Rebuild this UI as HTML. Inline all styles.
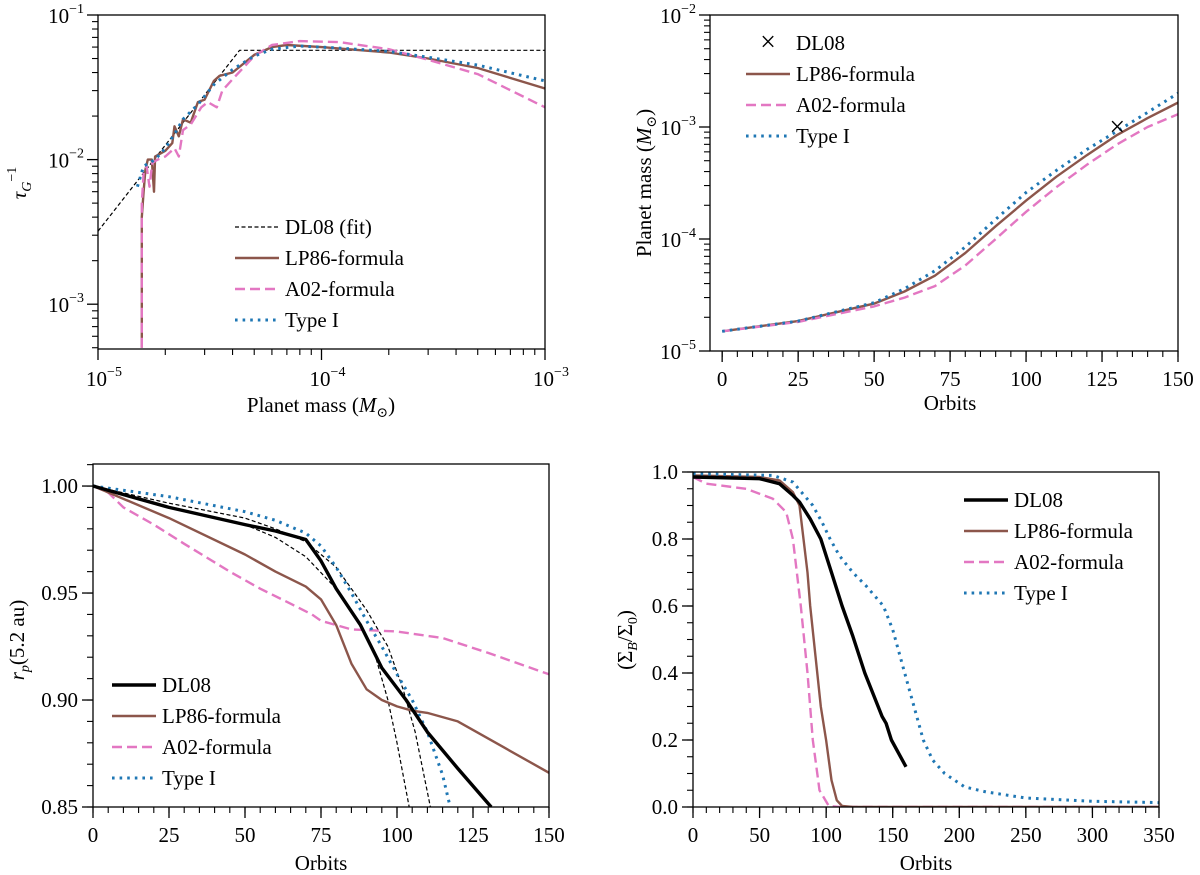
<!DOCTYPE html>
<html><head><meta charset="utf-8"><style>
html,body{margin:0;padding:0;background:#fff;}
svg{display:block;font-family:"Liberation Serif","DejaVu Serif",serif;}
</style></head><body>
<svg id="fig" width="1200" height="875" viewBox="0 0 1200 875"></svg>
<script>
// ---------- data ----------
const aDL08fit = [[1e-5,3.2e-3],[4.3e-5,5.7e-2],[1e-3,5.7e-2]];
const aLP86 = [[1.57e-5,5e-4],[1.57e-5,4e-3],[1.6e-5,6e-3],[1.63e-5,8.5e-3],[1.67e-5,1e-2],[1.74e-5,1e-2],[1.78e-5,6e-3],[1.8e-5,1.05e-2],[2e-5,1.15e-2],[2.15e-5,1.3e-2],[2.2e-5,1.7e-2],[2.3e-5,1.45e-2],[2.4e-5,1.9e-2],[2.6e-5,1.8e-2],[2.8e-5,2.5e-2],[3e-5,2.6e-2],[3.3e-5,3.5e-2],[3.5e-5,3.8e-2],[4e-5,4e-2],[5e-5,5.3e-2],[6e-5,6e-2],[7e-5,6.2e-2],[1e-4,6e-2],[2e-4,5.5e-2],[3e-4,5e-2],[5e-4,4.3e-2],[1e-3,3.1e-2]];
const aA02 = [[1.57e-5,5e-4],[1.57e-5,5e-3],[1.6e-5,8e-3],[1.65e-5,9e-3],[1.7e-5,6.5e-3],[1.75e-5,9.5e-3],[1.85e-5,1e-2],[2e-5,1.05e-2],[2.2e-5,1.2e-2],[2.3e-5,1.05e-2],[2.4e-5,1.6e-2],[2.6e-5,1.75e-2],[2.9e-5,2.3e-2],[3.1e-5,2.5e-2],[3.4e-5,2.3e-2],[3.6e-5,3e-2],[4e-5,3.6e-2],[5e-5,5.2e-2],[6e-5,6.2e-2],[8e-5,6.6e-2],[1.2e-4,6.5e-2],[2e-4,5.8e-2],[3e-4,4.9e-2],[5e-4,3.9e-2],[1e-3,2.3e-2]];
const aTypeI = [[1.5e-5,6.5e-3],[1.6e-5,9e-3],[1.8e-5,1e-2],[2e-5,1.2e-2],[2.2e-5,1.5e-2],[2.4e-5,1.9e-2],[2.8e-5,2.4e-2],[3.3e-5,3.3e-2],[4e-5,4.2e-2],[5e-5,5.2e-2],[6e-5,5.8e-2],[8e-5,6.1e-2],[1.2e-4,5.9e-2],[2e-4,5.6e-2],[3e-4,5.1e-2],[5e-4,4.5e-2],[1e-3,3.5e-2]];
const bLP86 = [[0,1.5e-5],[25,1.85e-5],[50,2.65e-5],[60,3.4e-5],[70,4.7e-5],[80,7.5e-5],[90,1.3e-4],[100,2.2e-4],[110,3.6e-4],[120,5.6e-4],[130,8.5e-4],[140,1.2e-3],[150,1.65e-3]];
const bA02 = [[0,1.5e-5],[25,1.82e-5],[50,2.5e-5],[60,3.0e-5],[70,3.8e-5],[80,5.8e-5],[90,1.0e-4],[100,1.75e-4],[110,2.9e-4],[120,4.6e-4],[130,7.0e-4],[140,1.0e-3],[150,1.3e-3]];
const bTypeI = [[0,1.5e-5],[25,1.85e-5],[50,2.7e-5],[60,3.6e-5],[70,5.2e-5],[80,8.5e-5],[90,1.5e-4],[100,2.6e-4],[110,4.1e-4],[120,6.3e-4],[130,9.2e-4],[140,1.35e-3],[150,2.0e-3]];
const bDL08 = [[130,1e-3]];
const cDL08 = [[0,1],[25,0.99],[50,0.982],[60,0.979],[70,0.975],[75,0.965],[80,0.952],[88,0.935],[95,0.915],[103,0.9],[110,0.885],[120,0.868],[131,0.85]];
const cLP86 = [[0,1],[25,0.985],[50,0.968],[60,0.96],[70,0.953],[75,0.947],[80,0.935],[85,0.917],[90,0.905],[95,0.9],[100,0.897],[105,0.895],[110,0.894],[120,0.89],[135,0.878],[150,0.866]];
const cA02 = [[0,1],[5,0.997],[10,0.99],[20,0.982],[30,0.973],[45,0.96],[55,0.952],[65,0.945],[72,0.94],[75,0.937],[85,0.933],[100,0.932],[115,0.929],[130,0.922],[150,0.912]];
const cTypeI = [[0,1],[25,0.995],[50,0.988],[60,0.984],[70,0.978],[75,0.972],[80,0.962],[85,0.95],[90,0.937],[95,0.925],[100,0.912],[105,0.9],[110,0.885],[115,0.865],[117.5,0.85]];
const cFit1 = [[0,1],[25,0.99],[50,0.982],[60,0.976],[70,0.967],[80,0.952],[88,0.935],[93,0.92],[97,0.9],[100,0.88],[104,0.85]];
const cFit2 = [[0,1],[25,0.992],[50,0.985],[60,0.98],[70,0.974],[80,0.962],[90,0.942],[97,0.925],[102,0.905],[106,0.885],[111,0.85]];
const dDL08 = [[0,0.985],[50,0.98],[65,0.965],[75,0.93],[80,0.91],[88,0.86],[96,0.8],[104,0.7],[112,0.6],[120,0.51],[129,0.4],[142,0.27],[145,0.25],[149,0.2],[160,0.12]];
const dLP86 = [[0,0.99],[50,0.985],[65,0.975],[75,0.94],[80,0.9],[83,0.8],[86,0.7],[88,0.6],[92,0.45],[96,0.3],[100,0.2],[104,0.08],[108,0.02],[112,0.003],[120,0],[350,0]];
const dA02 = [[0,0.985],[10,0.965],[40,0.95],[60,0.92],[70,0.88],[75,0.8],[81,0.6],[86,0.4],[90,0.2],[95,0.05],[102,0.003],[110,0],[350,0]];
const dTypeI = [[0,0.995],[60,0.99],[75,0.97],[90,0.9],[97,0.85],[103,0.8],[110,0.75],[120,0.7],[130,0.66],[143,0.6],[150,0.53],[159,0.4],[166,0.3],[173,0.2],[180,0.14],[189,0.1],[204,0.06],[220,0.045],[250,0.027],[300,0.017],[350,0.013]];
const linTicksB = [0,25,50,75,100,125,150];
const linTicksC = [0,25,50,75,100,125,150];
const yTicksC = [0.85,0.90,0.95,1.00];
const xTicksD = [0,50,100,150,200,250,300,350];
const yTicksD = [0,0.2,0.4,0.6,0.8,1.0];

// ---------- helpers ----------
const NS="http://www.w3.org/2000/svg";
const svg=document.getElementById('fig');
const FS=21, SUP=14;
function mk(tag,attrs,parent){const e=document.createElementNS(NS,tag);for(const k in attrs)e.setAttribute(k,attrs[k]);(parent||svg).appendChild(e);return e;}
const STY={
 fit:{stroke:'#000',w:1.2,dash:'4,2.5'},
 dl08:{stroke:'#000',w:3.4,dash:''},
 lp86:{stroke:'#8c564b',w:2.4,dash:''},
 a02:{stroke:'#e377c2',w:2.4,dash:'10,5'},
 type1:{stroke:'#1f77b4',w:3,dash:'2.6,5'}
};
function axes(p){
  const lg=v=>Math.log10(v);
  p.sx=v=>p.x0+((p.xlog?lg(v):v)-(p.xlog?lg(p.xmin):p.xmin))/((p.xlog?lg(p.xmax):p.xmax)-(p.xlog?lg(p.xmin):p.xmin))*(p.x1-p.x0);
  p.sy=v=>p.y1-((p.ylog?lg(v):v)-(p.ylog?lg(p.ymin):p.ymin))/((p.ylog?lg(p.ymax):p.ymax)-(p.ylog?lg(p.ymin):p.ymin))*(p.y1-p.y0);
  return p;
}
function clip(p,id){const d=mk('clipPath',{id:id});mk('rect',{x:p.x0,y:p.y0,width:p.x1-p.x0,height:p.y1-p.y0},d);return 'url(#'+id+')';}
function line(p,data,st,name,cl){
  const d=data.map((q,i)=>(i?'L':'M')+p.sx(q[0]).toFixed(1)+','+p.sy(q[1]).toFixed(1)).join('');
  const e=mk('path',{d:d,fill:'none',stroke:st.stroke,'stroke-width':st.w,'stroke-dasharray':st.dash,'stroke-linejoin':'round','clip-path':cl});
  
  
}
function txt(x,y,s,attrs,name){const e=mk('text',Object.assign({x:x,y:y,'font-size':FS,fill:'#000'},attrs||{}));e.innerHTML=s;return e;}
function frame(p,name){const e=mk('rect',{x:p.x0,y:p.y0,width:p.x1-p.x0,height:p.y1-p.y0,fill:'none',stroke:'#000','stroke-width':1.3});}
function tick(x1,y1,x2,y2,w){mk('line',{x1:x1,y1:y1,x2:x2,y2:y2,stroke:'#000','stroke-width':w||1.3});}
const MJ=11, MN=6;
function linXTicks(p,ticks,minorStep){
  for(let v=Math.ceil(p.xmin/minorStep)*minorStep;v<=p.xmax+1e-9;v+=minorStep){const x=p.sx(v);tick(x,p.y1,x,p.y1+MN,1.1);}
  for(const t of ticks){const x=p.sx(t);tick(x,p.y1,x,p.y1+MJ);txt(x,p.y1+35,String(t),{'text-anchor':'middle'},'x-tick-label');}
}
function linYTicks(p,ticks,minorStep,fmt){
  for(let v=Math.ceil(p.ymin/minorStep-1e-9)*minorStep;v<=p.ymax+1e-9;v+=minorStep){const y=p.sy(v);tick(p.x0-MN,y,p.x0,y,1.1);}
  for(const t of ticks){const y=p.sy(t);tick(p.x0-MJ,y,p.x0,y);txt(p.x0-15,y+7,fmt(t),{'text-anchor':'end'},'y-tick-label');}
}
function logYTicks(p,e0,e1){
  for(let e=e0;e<=e1;e++){
    for(let m=1;m<10;m++){const v=m*Math.pow(10,e);if(v<p.ymin*0.999||v>p.ymax*1.001)continue;const y=p.sy(v);
      if(m===1){tick(p.x0-MJ,y,p.x0,y);txt(p.x0-14,y+8,'10<tspan dy="-10" font-size="'+SUP+'">&#8722;'+(-e)+'</tspan>',{'text-anchor':'end'},'y-tick-label');}
      else tick(p.x0-MN,y,p.x0,y,1.1);}
  }
}
function logXTicks(p,e0,e1){
  for(let e=e0;e<=e1;e++){
    for(let m=1;m<10;m++){const v=m*Math.pow(10,e);if(v<p.xmin*0.999||v>p.xmax*1.001)continue;const x=p.sx(v);
      if(m===1){tick(x,p.y1,x,p.y1+MJ);txt(x+6,p.y1+37,'10<tspan dy="-10" font-size="'+SUP+'">&#8722;'+(-e)+'</tspan>',{'text-anchor':'middle'},'x-tick-label');}
      else tick(x,p.y1,x,p.y1+MN,1.1);}
  }
}
function legend(items,x,y,dy,name){
  const g=mk('g',{});
  items.forEach((it,i)=>{const yy=y+i*dy;
    if(it.marker){const e=mk('text',{x:x+22,y:yy+8,'font-size':28,'text-anchor':'middle'},g);e.textContent='\u00d7';}
    else mk('line',{x1:x,y1:yy,x2:x+44,y2:yy,stroke:it.st.stroke,'stroke-width':it.st.w,'stroke-dasharray':it.st.dash},g);
    const t=mk('text',{x:x+50,y:yy+7,'font-size':FS},g);t.textContent=it.label;
  });
}

// ---------- Panel A ----------
const A=axes({x0:98,x1:545,y0:15,y1:349,xmin:1e-5,xmax:1e-3,ymin:4.9e-4,ymax:1e-1,xlog:true,ylog:true});
let cl=clip(A,'cA');
line(A,aDL08fit,STY.fit,'dl08-fit-line',cl);
line(A,aLP86,STY.lp86,'lp86-line',cl);
line(A,aA02,STY.a02,'a02-line',cl);
line(A,aTypeI,STY.type1,'type1-line',cl);
frame(A,'panel-a-axes');logXTicks(A,-5,-3);logYTicks(A,-4,-1);
txt(321,412,'Planet mass (<tspan font-style="italic">M</tspan><tspan font-size="'+SUP+'" dy="5">&#8857;</tspan><tspan dy="-5">)</tspan>',{'text-anchor':'middle'},'x-axis-title');
txt(0,0,'<tspan font-style="italic">&#964;</tspan><tspan font-style="italic" font-size="'+SUP+'" dy="5">G</tspan><tspan dy="-15" font-size="'+SUP+'">&#8722;1</tspan>',{transform:'translate(26,183) rotate(-90)','text-anchor':'middle'},'y-axis-title');
legend([{st:STY.fit,label:'DL08 (fit)'},{st:STY.lp86,label:'LP86-formula'},{st:STY.a02,label:'A02-formula'},{st:STY.type1,label:'Type I'}],235,227,31,'legend-a');

// ---------- Panel B ----------
const B=axes({x0:710,x1:1178,y0:15,y1:351,xmin:-4,xmax:150,ymin:1e-5,ymax:1e-2,ylog:true});
cl=clip(B,'cB');
line(B,bLP86,STY.lp86,'lp86-line',cl);
line(B,bA02,STY.a02,'a02-line',cl);
line(B,bTypeI,STY.type1,'type1-line',cl);
for(const q of bDL08){const e=mk('text',{x:B.sx(q[0]),y:B.sy(q[1])+9,'font-size':28,'text-anchor':'middle'});e.textContent='\u00d7';}
frame(B,'panel-b-axes');linXTicks(B,linTicksB,5);logYTicks(B,-5,-2);
txt(950,410,'Orbits',{'text-anchor':'middle'},'x-axis-title');
txt(0,0,'Planet mass (<tspan font-style="italic">M</tspan><tspan font-size="'+SUP+'" dy="5">&#8857;</tspan><tspan dy="-5">)</tspan>',{transform:'translate(651,183) rotate(-90)','text-anchor':'middle'},'y-axis-title');
legend([{marker:true,label:'DL08'},{st:STY.lp86,label:'LP86-formula'},{st:STY.a02,label:'A02-formula'},{st:STY.type1,label:'Type I'}],746,43,31,'legend-b');

// ---------- Panel C ----------
const Cp=axes({x0:93,x1:549,y0:464,y1:807,xmin:0,xmax:150,ymin:0.85,ymax:1.0103});
cl=clip(Cp,'cC');
line(Cp,cFit1,STY.fit,'dl08-fit-line-1',cl);
line(Cp,cFit2,STY.fit,'dl08-fit-line-2',cl);
line(Cp,cA02,STY.a02,'a02-line',cl);
line(Cp,cLP86,STY.lp86,'lp86-line',cl);
line(Cp,cTypeI,STY.type1,'type1-line',cl);
line(Cp,cDL08,STY.dl08,'dl08-line',cl);
frame(Cp,'panel-c-axes');linXTicks(Cp,linTicksC,5);linYTicks(Cp,yTicksC,0.01,v=>v.toFixed(2));
txt(321,870,'Orbits',{'text-anchor':'middle'},'x-axis-title');
txt(0,0,'<tspan font-style="italic">r</tspan><tspan font-style="italic" font-size="'+SUP+'" dy="5">p</tspan><tspan dy="-5">(5.2 au)</tspan>',{transform:'translate(24,640) rotate(-90)','text-anchor':'middle'},'y-axis-title');
legend([{st:STY.dl08,label:'DL08'},{st:STY.lp86,label:'LP86-formula'},{st:STY.a02,label:'A02-formula'},{st:STY.type1,label:'Type I'}],112,685,31,'legend-c');

// ---------- Panel D ----------
const D=axes({x0:693,x1:1159,y0:472,y1:807,xmin:0,xmax:350,ymin:0,ymax:1.0});
cl=clip(D,'cD');
line(D,dA02,STY.a02,'a02-line',cl);
line(D,dLP86,STY.lp86,'lp86-line',cl);
line(D,dTypeI,STY.type1,'type1-line',cl);
line(D,dDL08,STY.dl08,'dl08-line',cl);
frame(D,'panel-d-axes');linXTicks(D,xTicksD,10);linYTicks(D,yTicksD,0.05,v=>v.toFixed(1));
txt(926,870,'Orbits',{'text-anchor':'middle'},'x-axis-title');
txt(0,0,'(&#931;<tspan font-style="italic" font-size="'+SUP+'" dy="5">B</tspan><tspan dy="-5">/&#931;</tspan><tspan font-size="'+SUP+'" dy="5">0</tspan><tspan dy="-5">)</tspan>',{transform:'translate(632,640) rotate(-90)','text-anchor':'middle'},'y-axis-title');
legend([{st:STY.dl08,label:'DL08'},{st:STY.lp86,label:'LP86-formula'},{st:STY.a02,label:'A02-formula'},{st:STY.type1,label:'Type I'}],964,500,31,'legend-d');
</script>
</body></html>
